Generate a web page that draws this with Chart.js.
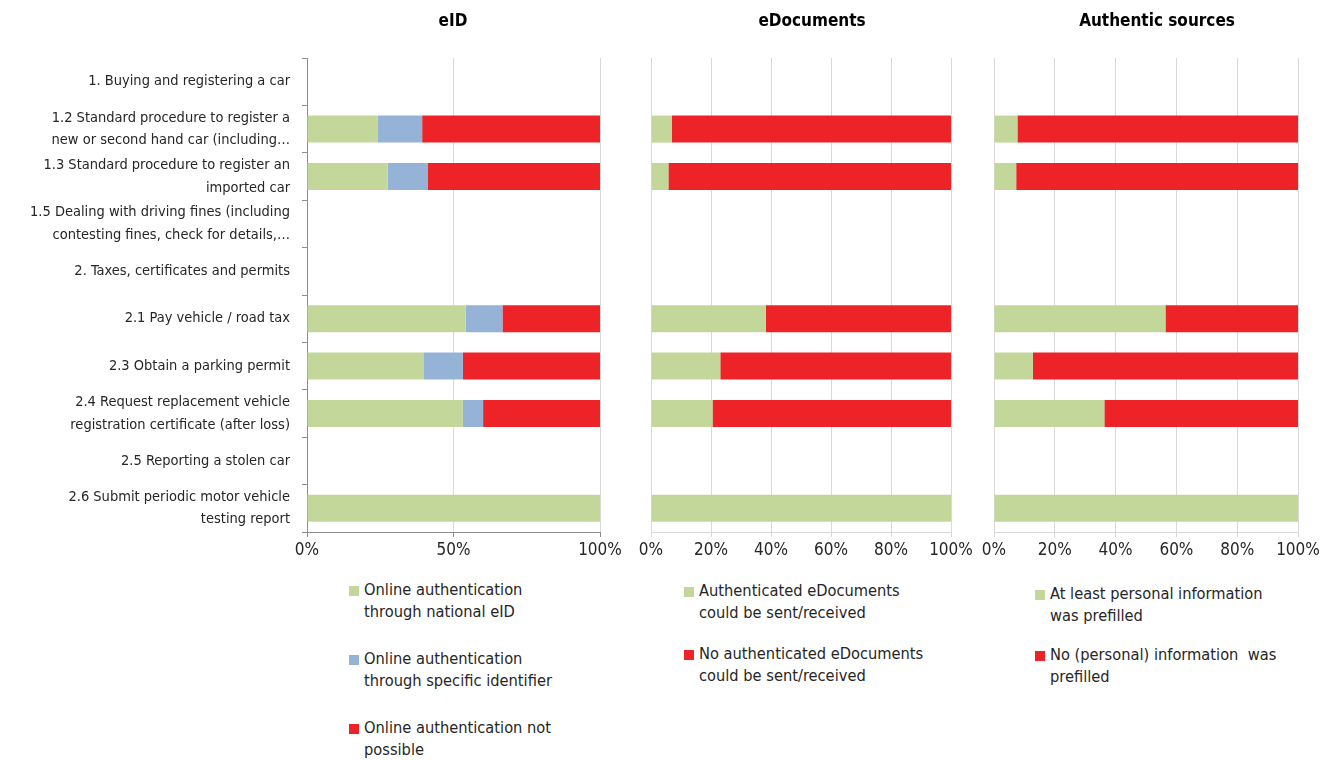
<!DOCTYPE html>
<html>
<head>
<meta charset="utf-8">
<script src="https://cdn.jsdelivr.net/npm/chart.js@4/dist/chart.umd.min.js"></script>
<style>
  body { margin: 0; background: #fff; width: 1338px; height: 760px; position: relative; overflow: hidden;
         font-family: 'Liberation Sans Narrow', 'DejaVu Sans Condensed', sans-serif; }
  canvas { position: absolute; top: 0; }
  .title { position: absolute; top: 10px; font-size: 17px; font-weight: bold; color: #000; text-align: center; transform: translateX(-50%); white-space: nowrap; }
  .legend { position: absolute; font-size: 16.3px; line-height: 22px; color: #262626; }
  .legend .item { position: relative; padding-left: 15px; white-space: pre; }
  .legend .sw { position: absolute; left: 0; top: 7px; width: 10px; height: 10px; }
</style>
</head>
<body>
<canvas id="c-eid"></canvas>
<canvas id="c-edoc"></canvas>
<canvas id="c-auth"></canvas>
<div class="title" id="t-eid"></div>
<div class="title" id="t-edoc"></div>
<div class="title" id="t-auth"></div>
<div class="legend" id="lg-eid"></div>
<div class="legend" id="lg-edoc"></div>
<div class="legend" id="lg-auth"></div>
<script>
// ── dados ──
const categories = [
  ['1. Buying and registering a car'],
  ['1.2 Standard procedure to register a', 'new or second hand car (including…'],
  ['1.3 Standard procedure to register an', 'imported car'],
  ['1.5 Dealing with driving fines (including', 'contesting fines, check for details,…'],
  ['2. Taxes, certificates and permits'],
  ['2.1 Pay vehicle / road tax'],
  ['2.3 Obtain a parking permit'],
  ['2.4 Request replacement vehicle', 'registration certificate (after loss)'],
  ['2.5 Reporting a stolen car'],
  ['2.6 Submit periodic motor vehicle', 'testing report']
];

const eidNational    = [null, 24.2, 27.5, null, null, 54.2, 39.7, 53.2, null, 100];
const eidSpecific    = [null, 15.1, 13.8, null, null, 12.5, 13.5, 6.9, null, 0];
const eidNotPossible = [null, 60.7, 58.7, null, null, 33.3, 46.8, 39.9, null, 0];

const edocYes = [null, 7.0, 5.8, null, null, 38.3, 23.1, 20.5, null, 100];
const edocNo  = [null, 93.0, 94.2, null, null, 61.7, 76.9, 79.5, null, 0];

const authYes = [null, 7.7, 7.3, null, null, 56.4, 12.8, 36.3, null, 100];
const authNo  = [null, 92.3, 92.7, null, null, 43.6, 87.2, 63.7, null, 0];

const eidTicks = [0, 50, 100];
const pctTicks = [0, 20, 40, 60, 80, 100];

const GREEN = '#c4d79b', BLUE = '#95b3d7', RED = '#ee2327';
const FONT = "'Liberation Sans Narrow', 'DejaVu Sans Condensed', sans-serif";

Chart.defaults.font.family = FONT;
Chart.defaults.color = '#262626';

const panels = [
  { id: 'eid', title: 'eID', titleX: 453, left: 0, width: 625, yWidth: 307, ticks: eidTicks, showLabels: true,
    axisColor: '#8c8c8c', legendPos: [349, 579], gap: 25,
    series: [
      { label: ['Online authentication', 'through national eID'], data: eidNational, color: GREEN },
      { label: ['Online authentication', 'through specific identifier'], data: eidSpecific, color: BLUE },
      { label: ['Online authentication not', 'possible'], data: eidNotPossible, color: RED }
    ] },
  { id: 'edoc', title: 'eDocuments', titleX: 812, left: 630, width: 346, yWidth: 21, ticks: pctTicks, showLabels: false,
    axisColor: '#d9d9d9', legendPos: [684, 580], gap: 19,
    series: [
      { label: ['Authenticated eDocuments', 'could be sent/received'], data: edocYes, color: GREEN },
      { label: ['No authenticated eDocuments', 'could be sent/received'], data: edocNo, color: RED }
    ] },
  { id: 'auth', title: 'Authentic sources', titleX: 1157, left: 974, width: 349, yWidth: 20, ticks: pctTicks, showLabels: false,
    axisColor: '#d9d9d9', legendPos: [1035, 583], gap: 17,
    series: [
      { label: ['At least personal information', 'was prefilled'], data: authYes, color: GREEN },
      { label: ['No (personal) information  was', 'prefilled'], data: authNo, color: RED }
    ] }
];

panels.forEach(p => {
  const cv = document.getElementById('c-' + p.id);
  cv.style.left = p.left + 'px';
  cv.style.width = p.width + 'px';
  cv.style.height = '562px';
  cv.width = p.width; cv.height = 562;

  new Chart(cv, {
    type: 'bar',
    data: {
      labels: categories,
      datasets: p.series.map(s => ({
        label: s.label.join(' '), data: s.data, backgroundColor: s.color,
        borderWidth: 0, barPercentage: 0.57, categoryPercentage: 1
      }))
    },
    options: {
      indexAxis: 'y', responsive: false, animation: false,
      layout: { padding: { left: 0, right: 25, top: 58, bottom: 0 } },
      plugins: { legend: { display: false }, tooltip: { enabled: false } },
      scales: {
        x: {
          stacked: true, min: 0, max: 100,
          afterBuildTicks: sc => { sc.ticks = p.ticks.map(v => ({ value: v })); },
          afterFit: sc => { sc.height = 30; },
          ticks: { callback: v => v + '%', font: { size: 17 }, color: '#262626', padding: 3, maxRotation: 0 },
          grid: { color: '#d9d9d9', tickColor: p.axisColor, tickLength: 5 },
          border: { color: p.axisColor }
        },
        y: {
          stacked: true,
          afterFit: sc => { sc.width = p.yWidth; },
          ticks: { display: p.showLabels, autoSkip: false, font: { size: 14.5, lineHeight: 1.55 }, color: '#262626', padding: 12 },
          grid: { drawOnChartArea: false, drawTicks: p.showLabels, tickLength: 5, color: p.axisColor, offset: true },
          border: { color: p.axisColor }
        }
      }
    }
  });

  const t = document.getElementById('t-' + p.id);
  t.textContent = p.title;
  t.style.left = p.titleX + 'px';

  // legenda em HTML (itens empilhados, texto em duas linhas)
  const lg = document.getElementById('lg-' + p.id);
  lg.style.left = p.legendPos[0] + 'px';
  lg.style.top = p.legendPos[1] + 'px';
  lg.innerHTML = p.series.map((s, i) =>
    `<div class="item" style="margin-bottom:${i < p.series.length - 1 ? p.gap : 0}px"><span class="sw" style="background:${s.color}"></span>${s.label.join('\n')}</div>`
  ).join('');
});
</script>
</body>
</html>
